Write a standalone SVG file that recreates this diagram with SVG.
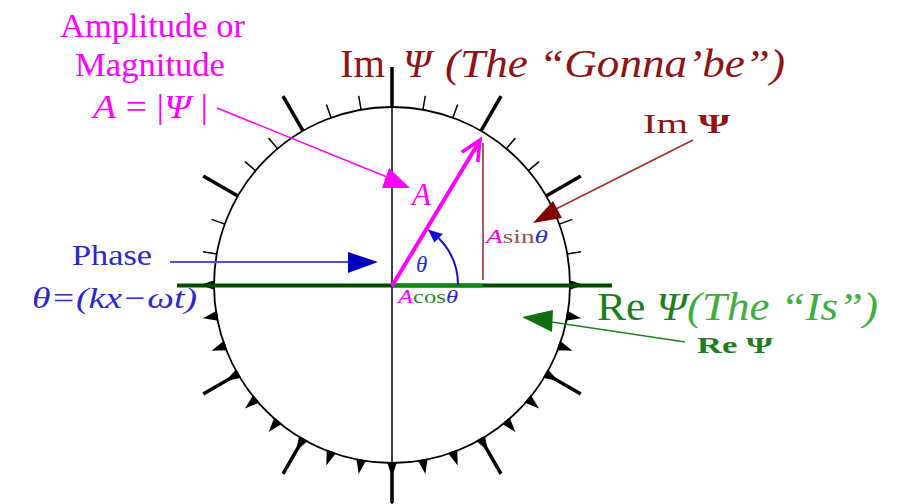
<svg xmlns="http://www.w3.org/2000/svg" xmlns:xlink="http://www.w3.org/1999/xlink" width="903" height="504" viewBox="0 0 903 504">
<style>
  .serif{font-family:"Liberation Serif","DejaVu Serif",serif;}
  .it{font-style:italic;}
  .mag{fill:#ff00ff;}
  .blue{fill:#2a2acc;}
  .dred{fill:#8e1414;}
  .dgreen{fill:#1e7e1e;}
  .lgreen{fill:#3fae3f;}
  .tk{stroke:#000;stroke-width:1.5;fill:none;}
  .tkM{stroke:#000;stroke-width:3.5;fill:none;}
</style>
<defs>
  <line id="minUp" class="tk" x1="178" y1="0" x2="192" y2="0"/>
  <line id="majUp" class="tkM" x1="178" y1="0" x2="218" y2="0"/>
  <polygon id="minDn" points="177,-5 177,5 192,0" fill="#000"/>
  <g id="majDn"><polygon points="177,-5 177,5 192,0" fill="#000"/><line class="tkM" x1="178" y1="0" x2="218" y2="0"/></g>
</defs>
<rect width="903" height="504" fill="#fff"/>

<g id="dial" transform="translate(392,285)">
  <circle cx="0" cy="0" r="178" fill="none" stroke="#000" stroke-width="1.8"/>
  <use xlink:href="#minUp" transform="rotate(-10)"/>
  <use xlink:href="#minUp" transform="rotate(-20)"/>
  <use xlink:href="#majUp" transform="rotate(-30)"/>
  <use xlink:href="#minUp" transform="rotate(-40)"/>
  <use xlink:href="#minUp" transform="rotate(-50)"/>
  <use xlink:href="#majUp" transform="rotate(-60)"/>
  <use xlink:href="#minUp" transform="rotate(-70)"/>
  <use xlink:href="#minUp" transform="rotate(-80)"/>
  <use xlink:href="#majUp" transform="rotate(-90)"/>
  <use xlink:href="#minUp" transform="rotate(-100)"/>
  <use xlink:href="#minUp" transform="rotate(-110)"/>
  <use xlink:href="#majUp" transform="rotate(-120)"/>
  <use xlink:href="#minUp" transform="rotate(-130)"/>
  <use xlink:href="#minUp" transform="rotate(-140)"/>
  <use xlink:href="#majUp" transform="rotate(-150)"/>
  <use xlink:href="#minUp" transform="rotate(-160)"/>
  <use xlink:href="#minUp" transform="rotate(-170)"/>
  <use xlink:href="#minDn" transform="rotate(-180)"/>
  <use xlink:href="#minDn" transform="rotate(-190)"/>
  <use xlink:href="#minDn" transform="rotate(-200)"/>
  <use xlink:href="#majDn" transform="rotate(-210)"/>
  <use xlink:href="#minDn" transform="rotate(-220)"/>
  <use xlink:href="#minDn" transform="rotate(-230)"/>
  <use xlink:href="#majDn" transform="rotate(-240)"/>
  <use xlink:href="#minDn" transform="rotate(-250)"/>
  <use xlink:href="#minDn" transform="rotate(-260)"/>
  <use xlink:href="#majDn" transform="rotate(-270)"/>
  <use xlink:href="#minDn" transform="rotate(-280)"/>
  <use xlink:href="#minDn" transform="rotate(-290)"/>
  <use xlink:href="#majDn" transform="rotate(-300)"/>
  <use xlink:href="#minDn" transform="rotate(-310)"/>
  <use xlink:href="#minDn" transform="rotate(-320)"/>
  <use xlink:href="#majDn" transform="rotate(-330)"/>
  <use xlink:href="#minDn" transform="rotate(-340)"/>
  <use xlink:href="#minDn" transform="rotate(-350)"/>
  <use xlink:href="#minDn"/>
</g>

<g id="axes">
  <line x1="392" y1="67" x2="392" y2="504" stroke="#000" stroke-width="1.5"/>
  <line x1="177" y1="285.5" x2="612" y2="285.5" stroke="#004a00" stroke-width="4"/>
  <line x1="392" y1="285.5" x2="483" y2="285.5" stroke="#0a8a0a" stroke-width="4"/>
</g>

<g id="connectors">
  <line x1="392" y1="286" x2="479" y2="142" stroke="#ff00ff" stroke-width="4"/>
  <polyline points="461.7,152.3 480,140 477.7,162" fill="none" stroke="#ff00ff" stroke-width="3.5"/>
  <line x1="483" y1="143" x2="483" y2="280" stroke="#a85c5c" stroke-width="2"/>
  <path d="M458,285 A66,66 0 0 0 438.7,238.3" fill="none" stroke="#1010d0" stroke-width="2"/>
  <polygon points="434.4,242.6 442.9,234.1 427.9,229.6" fill="#1010d0"/>
  <line x1="217" y1="108" x2="392" y2="179" stroke="#ff00ff" stroke-width="1.5"/>
  <polygon points="389,168 382,188 410,188" fill="#ff00ff"/>
  <line x1="693" y1="140" x2="548" y2="213" stroke="#a82828" stroke-width="1.5"/>
  <polygon points="533,223 553,201 562,218" fill="#800000"/>
  <line x1="170" y1="262" x2="352" y2="262" stroke="#5050d0" stroke-width="2"/>
  <polygon points="348,252 378,262 348,273" fill="#0000c0"/>
  <line x1="685" y1="342" x2="545" y2="321" stroke="#208020" stroke-width="1.5"/>
  <polygon points="522,317 553,310 552,332" fill="#107010"/>
</g>

<g id="labels" class="serif">
  <text x="60" y="37" font-size="33" class="mag" textLength="185" lengthAdjust="spacingAndGlyphs">Amplitude or</text>
  <text x="75" y="76" font-size="33" class="mag" textLength="150" lengthAdjust="spacingAndGlyphs">Magnitude</text>
  <text x="93" y="118" font-size="33" class="mag" textLength="115" lengthAdjust="spacingAndGlyphs"><tspan class="it">A</tspan> = |<tspan class="it">Ψ</tspan> |</text>

  <text x="340" y="77" font-size="40" class="dred" textLength="45" lengthAdjust="spacingAndGlyphs">Im</text>
  <text x="403" y="77" font-size="40" class="dred it">Ψ</text>
  <text x="445" y="77" font-size="40" class="dred it" textLength="340" lengthAdjust="spacingAndGlyphs">(The “Gonna’be”)</text>

  <text x="643" y="133" font-size="27" class="dred" textLength="87" lengthAdjust="spacingAndGlyphs">Im <tspan font-weight="bold">Ψ</tspan></text>

  <text x="412" y="205" font-size="31" class="mag it">A</text>
  <text x="416" y="272" font-size="23" class="blue it">θ</text>

  <text x="486" y="243" font-size="18" textLength="62" lengthAdjust="spacingAndGlyphs"><tspan class="mag it">A</tspan><tspan fill="#a05050">sin</tspan><tspan class="blue it">θ</tspan></text>
  <text x="398" y="303" font-size="18" textLength="60" lengthAdjust="spacingAndGlyphs"><tspan class="mag it">A</tspan><tspan fill="#209020">cos</tspan><tspan class="blue it">θ</tspan></text>

  <text x="72" y="265" font-size="29" class="blue" textLength="80" lengthAdjust="spacingAndGlyphs">Phase</text>
  <text x="32" y="308" font-size="30" class="blue it" textLength="165" lengthAdjust="spacingAndGlyphs">θ=(kx−ωt)</text>

  <text x="597" y="320" font-size="40" class="dgreen" textLength="90" lengthAdjust="spacingAndGlyphs">Re <tspan class="it">Ψ</tspan></text>
  <text x="687" y="320" font-size="40" class="lgreen it" textLength="191" lengthAdjust="spacingAndGlyphs">(The “Is”)</text>
  <text x="697" y="353" font-size="24" class="dgreen" font-weight="bold" textLength="76" lengthAdjust="spacingAndGlyphs">Re Ψ</text>
</g>
</svg>
